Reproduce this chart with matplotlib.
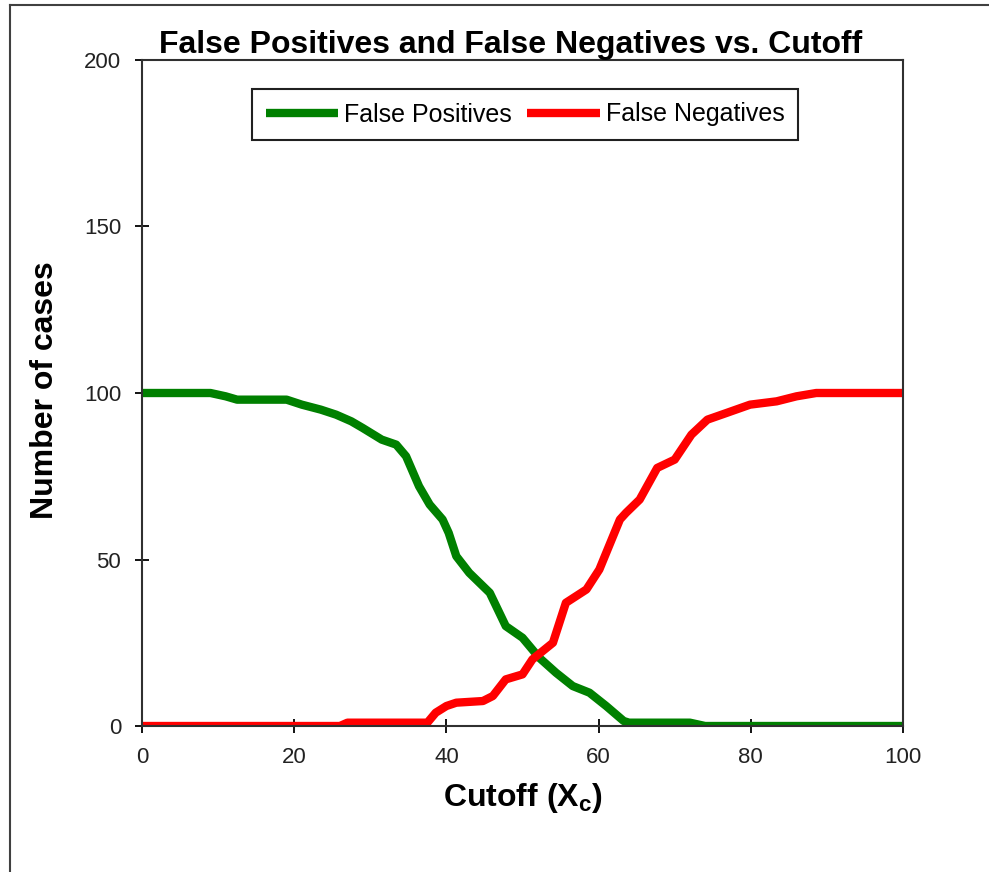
import matplotlib.pyplot as plt
from matplotlib.lines import Line2D

# False positives vs. cutoff
fp_x = [0, 9, 11, 12.5, 19, 21, 23.5, 25.5, 27.5, 29, 31.5, 33.4, 34.7, 36.4, 37.8,
        39.5, 40.3, 41.3, 43, 45.7, 47.8, 50, 52.2, 54.4, 56.6, 58.8, 61, 63.3, 64,
        72, 74, 100]
fp_y = [100, 100, 99, 98, 98, 96.5, 95, 93.5, 91.5, 89.5, 86, 84.5, 81, 72, 66.5,
        62, 58, 51, 46, 40, 30, 26.5, 20.5, 16, 12, 10, 6, 1.5, 1,
        1, 0, 0]

# False negatives vs. cutoff
fn_x = [0, 26, 27, 37.5, 38.6, 40, 41.3, 44.8, 46.1, 47.8, 50, 51.3, 54, 55.7, 58.4,
        60.1, 62.8, 63.6, 65.4, 67.7, 70, 72.2, 74.3, 76.8, 79.9, 83.4, 86, 88.6, 100]
fn_y = [0, 0, 1, 1, 4, 6, 7, 7.5, 9, 14, 15.5, 20, 25, 37, 41,
        47, 62, 64, 68, 77.5, 80, 87.5, 92, 94, 96.5, 97.5, 99, 100, 100]

x_ticks = [0, 20, 40, 60, 80, 100]
y_ticks = [0, 50, 100, 150, 200]

plt.rcParams["font.family"] = ["Liberation Sans", "DejaVu Sans"]

fig = plt.figure(figsize=(9.89, 8.72), dpi=100)
ax = fig.add_axes([142 / 989, 1 - 726 / 872, (903 - 142) / 989, (726 - 60) / 872])

ax.plot(fp_x, fp_y, color="#008000", lw=6, solid_joinstyle="round",
        solid_capstyle="butt", label="False Positives")
ax.plot(fn_x, fn_y, color="#FF0000", lw=6, solid_joinstyle="round",
        solid_capstyle="butt", label="False Negatives")

ax.set_xlim(0, 100)
ax.set_ylim(0, 200)
ax.set_xticks(x_ticks)
ax.set_yticks(y_ticks)
ax.tick_params(direction="inout", length=10, width=1.3, labelsize=16,
               labelcolor="#222222")
ax.tick_params(axis="x", pad=10)
ax.tick_params(axis="y", pad=10)
for s in ax.spines.values():
    s.set_linewidth(1.5)
    s.set_color("#303030")

fig.text(511 / 989, 1 - 45 / 872, "False Positives and False Negatives vs. Cutoff",
         ha="center", va="center", fontsize=23, fontweight="bold")
fig.text(523 / 989, 1 - 798 / 872, r"Cutoff (X$_\mathregular{c}$)",
         ha="center", va="center", fontsize=23, fontweight="bold")
fig.text(45 / 989, 1 - 390 / 872, "Number of cases", rotation=90,
         ha="center", va="center", fontsize=23, fontweight="bold")

leg = ax.legend(loc="center", bbox_to_anchor=(525 / 989, 1 - 114.5 / 872),
                bbox_transform=fig.transFigure, ncol=2, fontsize=18,
                handlelength=2.9, handletextpad=0.25, columnspacing=0.6,
                borderpad=0.55, fancybox=False, framealpha=1)
leg.get_frame().set_edgecolor("#202020")
leg.get_frame().set_linewidth(1.5)

# outer chart-area border (top and left edges)
fig.add_artist(Line2D([10 / 989, 1], [1 - 5 / 872, 1 - 5 / 872],
                      transform=fig.transFigure, color="#404040", lw=1.5))
fig.add_artist(Line2D([10 / 989, 10 / 989], [0, 1 - 5 / 872],
                      transform=fig.transFigure, color="#404040", lw=1.5))

fig.savefig("out.png", dpi=100)
